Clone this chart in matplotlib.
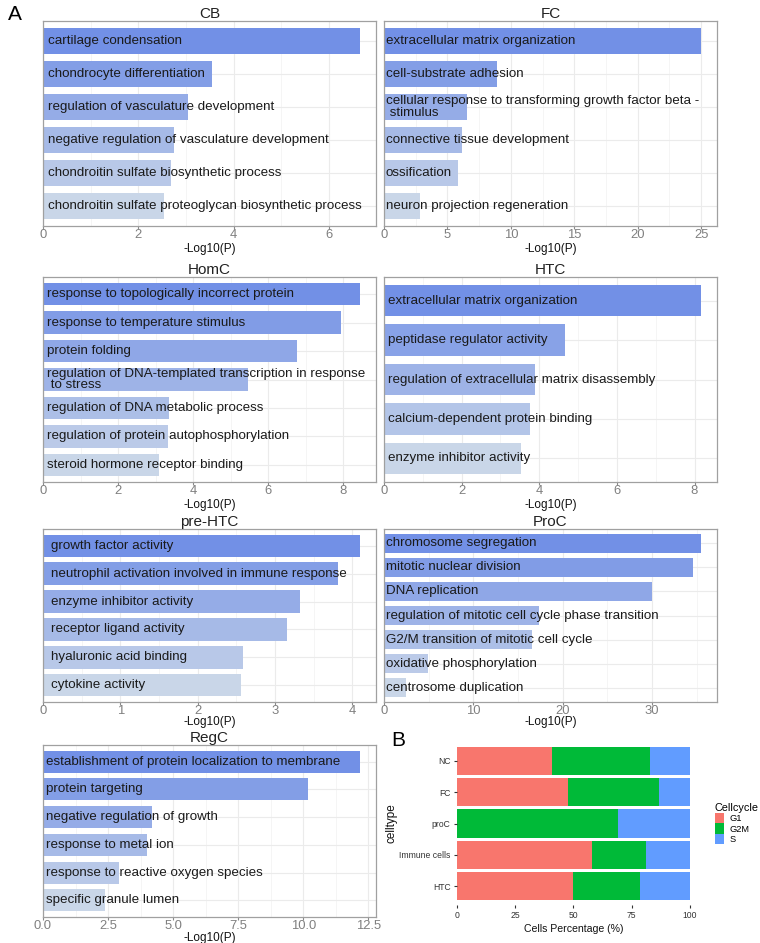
import matplotlib
matplotlib.use("Agg")
import matplotlib.pyplot as plt
import numpy as np
from matplotlib.colors import to_rgb

plt.rcParams['font.family'] = ['Liberation Sans', 'DejaVu Sans']

# ---- panel A data (terms top -> bottom, -log10 P) ----
cb_terms = ["cartilage condensation", "chondrocyte differentiation",
            "regulation of vasculature development",
            "negative regulation of vasculature development",
            "chondroitin sulfate biosynthetic process",
            "chondroitin sulfate proteoglycan biosynthetic process"]
cb_vals = [6.65, 3.55, 3.04, 2.75, 2.69, 2.53]

fc_terms = ["extracellular matrix organization", "cell-substrate adhesion",
            "cellular response to transforming growth factor beta -\n stimulus",
            "connective tissue development", "ossification",
            "neuron projection regeneration"]
fc_vals = [25.0, 8.89, 6.57, 6.18, 5.81, 2.84]

homc_terms = ["response to topologically incorrect protein",
              "response to temperature stimulus", "protein folding",
              "regulation of DNA-templated transcription in response\n to stress",
              "regulation of DNA metabolic process",
              "regulation of protein autophosphorylation",
              "steroid hormone receptor binding"]
homc_vals = [8.45, 7.95, 6.77, 5.45, 3.35, 3.32, 3.08]

htc_terms = ["extracellular matrix organization", "peptidase regulator activity",
             "regulation of extracellular matrix disassembly",
             "calcium-dependent protein binding", "enzyme inhibitor activity"]
htc_vals = [8.17, 4.65, 3.89, 3.76, 3.52]

prehtc_terms = ["growth factor activity",
                "neutrophil activation involved in immune response",
                "enzyme inhibitor activity", "receptor ligand activity",
                "hyaluronic acid binding", "cytokine activity"]
prehtc_vals = [4.10, 3.82, 3.32, 3.15, 2.59, 2.56]

proc_terms = ["chromosome segregation", "mitotic nuclear division",
              "DNA replication", "regulation of mitotic cell cycle phase transition",
              "G2/M transition of mitotic cell cycle", "oxidative phosphorylation",
              "centrosome duplication"]
proc_vals = [35.5, 34.55, 30.0, 17.35, 16.6, 4.93, 2.43]

regc_terms = ["establishment of protein localization to membrane",
              "protein targeting", "negative regulation of growth",
              "response to metal ion", "response to reactive oxygen species",
              "specific granule lumen"]
regc_vals = [12.19, 10.18, 4.19, 3.98, 2.94, 2.39]

# ---- panel B data (percent) ----
celltypes = ["NC", "FC", "proC", "Immune cells", "HTC"]
g1 = [40.7, 47.7, 0.0, 58.0, 49.9]
g2m = [42.0, 39.2, 69.1, 23.1, 28.8]
s_phase = [17.3, 13.1, 30.9, 18.9, 21.3]

W, H = 760, 943
fig = plt.figure(figsize=(W / 100, H / 100), dpi=100)


def rect(x0, y0, x1, y1):
    return [x0 / W, 1 - y1 / H, (x1 - x0) / W, (y1 - y0) / H]


top_col = np.array(to_rgb("#7290e6"))
bot_col = np.array(to_rgb("#c9d6e8"))


def go_panel(box, title, terms, vals, ticks, ticklabels=None, xlab_pad=1.5):
    ax = fig.add_axes(rect(*box))
    n = len(vals)
    ypos = np.arange(n)
    xmax = max(vals) * 1.05
    cols = [top_col + (bot_col - top_col) * i / (n - 1) for i in range(n)]
    ax.barh(ypos, vals, height=0.8, color=cols, edgecolor="none", zorder=2)
    for y, t in zip(ypos, terms):
        ax.text(max(0.1, xmax * 0.005), y, t, ha="left", va="center", fontsize=9.6,
                color="#1a1a1a", linespacing=0.95, zorder=3)
    ax.set_xticks(ticks)
    if ticklabels is not None:
        ax.set_xticklabels(ticklabels)
    step = ticks[1] - ticks[0]
    minor = [t + step / 2 for t in ticks if t + step / 2 < xmax]
    ax.set_xticks(minor, minor=True)
    ax.set_yticks(ypos)
    ax.set_ylim(n - 0.4, -0.6)
    ax.set_xlim(0, xmax)
    ax.grid(True, which="major", color="#ebebeb", lw=0.8, zorder=0)
    ax.grid(True, which="minor", axis="x", color="#f4f4f4", lw=0.6, zorder=0)
    ax.set_axisbelow(True)
    ax.tick_params(axis="y", length=0, labelleft=False)
    ax.tick_params(axis="x", which="major", length=2, color="#8a8a8a",
                   labelsize=9.4, labelcolor="#808080", pad=0.3)
    ax.tick_params(axis="x", which="minor", length=0)
    for sp in ax.spines.values():
        sp.set_color("#a0a0a0")
        sp.set_linewidth(0.9)
    ax.set_title(title, fontsize=11, color="#222222", pad=1.5)
    ax.set_xlabel("-Log10(P)", fontsize=8.5, color="#111111", labelpad=xlab_pad)
    return ax


go_panel((43, 21, 376, 226), "CB", cb_terms, cb_vals, [0, 2, 4, 6])
go_panel((384, 21, 717, 226), "FC", fc_terms, fc_vals, [0, 5, 10, 15, 20, 25])
go_panel((43, 277, 376, 482), "HomC", homc_terms, homc_vals, [0, 2, 4, 6, 8])
go_panel((384, 277, 717, 482), "HTC", htc_terms, htc_vals, [0, 2, 4, 6, 8])
go_panel((43, 529, 376, 702), "pre-HTC", prehtc_terms, prehtc_vals, [0, 1, 2, 3, 4],
         xlab_pad=-1.0)
go_panel((384, 529, 717, 702), "ProC", proc_terms, proc_vals, [0, 10, 20, 30],
         xlab_pad=-1.0)
go_panel((43, 745, 376, 917), "RegC", regc_terms, regc_vals,
         [0, 2.5, 5.0, 7.5, 10.0, 12.5],
         ["0.0", "2.5", "5.0", "7.5", "10.0", "12.5"], xlab_pad=-0.5)

# ---- panel B ----
axb = fig.add_axes(rect(456.7, 742, 690, 905))
yb = np.arange(len(celltypes))
left = np.zeros(len(celltypes))
for vals, col, lab in [(g1, "#F8766D", "G1"), (g2m, "#00BA38", "G2M"),
                       (s_phase, "#619CFF", "S")]:
    axb.barh(yb, vals, left=left, height=0.9, color=col, edgecolor="none", label=lab)
    left = left + np.array(vals)
axb.set_ylim(len(celltypes) - 0.4, -0.6)
axb.set_xlim(0, 100)
axb.set_xticks([0, 25, 50, 75, 100])
axb.set_yticks(yb)
axb.set_yticklabels(celltypes)
for sp in axb.spines.values():
    sp.set_visible(False)
axb.tick_params(axis="both", length=2.5, color="#333333", labelsize=6.2,
                labelcolor="#333333", pad=2)
axb.set_xlabel("Cells Percentage (%)", fontsize=7.6, color="#111111", labelpad=3)
axb.set_ylabel("celltype", fontsize=8.5, color="#111111", labelpad=1)
leg = axb.legend(title="Cellcycle", loc="center left", bbox_to_anchor=(1.107, 0.5),
                 frameon=False, fontsize=6.7, title_fontsize=7.8,
                 handlelength=0.95, handleheight=1.3, handletextpad=0.6,
                 labelspacing=0.0, borderaxespad=0, borderpad=0)
leg._legend_box.align = "left"

fig.text(8 / W, 1 - 15 / H, "A", fontsize=15, va="center", ha="left")
fig.text(391 / W, 1 - 740 / H, "B", fontsize=15, va="center", ha="left")

fig.savefig("out.png", dpi=100)
